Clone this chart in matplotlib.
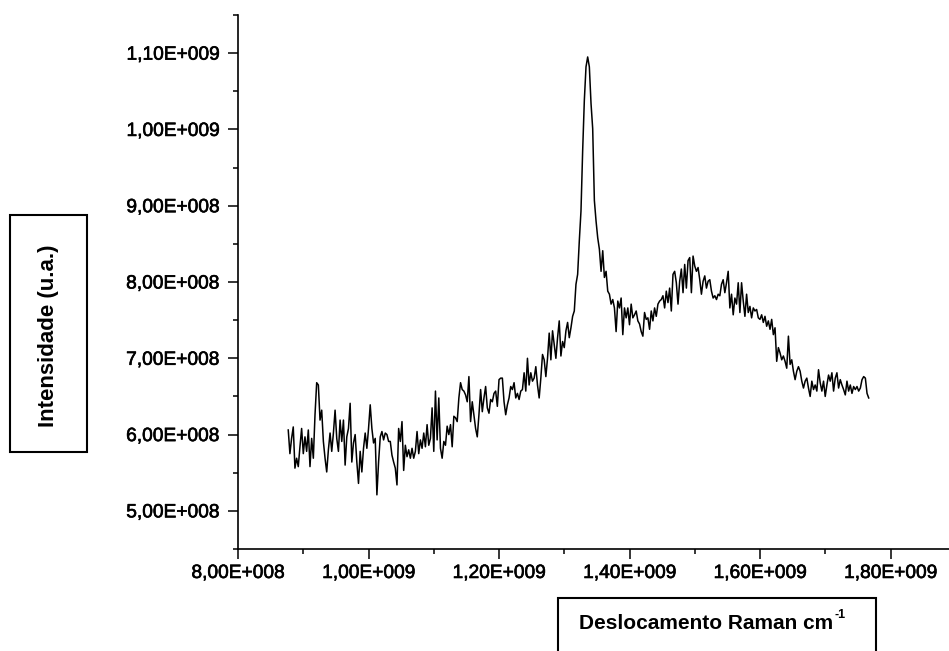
import numpy as np
import matplotlib
matplotlib.use("Agg")
import matplotlib.pyplot as plt
import matplotlib.patheffects as pe
from matplotlib.ticker import MultipleLocator, FuncFormatter
from matplotlib.patches import Rectangle

plt.rcParams['font.family'] = ['Liberation Sans', 'DejaVu Sans']

# Raman spectrum, shift sampled on a regular grid (units of 1e8)
x_first = 8.77
x_last = 17.666

# intensity (units of 1e8)
seg_low = [
    6.06, 5.75, 5.95, 6.10, 5.56, 5.69, 5.58, 5.84, 6.08, 5.75,
    5.97, 5.78, 6.06, 5.58, 5.95, 5.69, 6.26, 6.68, 6.65, 6.19,
    6.32, 5.91, 5.69, 5.51, 5.80, 6.02, 5.78, 6.02, 6.32, 5.95,
    5.78, 6.19, 5.91, 6.19, 5.60, 5.97, 6.08, 6.41, 5.64, 5.89,
    6.00, 5.64, 5.36, 5.78, 5.51, 5.82, 6.02, 5.82, 6.08, 6.39,
    6.08, 5.89, 5.95, 5.21, 5.64, 5.97, 6.04, 5.93, 6.02, 6.00,
    5.91, 5.91, 5.73, 5.64, 5.56, 5.34, 6.08, 5.91, 6.17, 5.53,
    5.86, 5.71, 5.80, 5.69, 5.82, 5.69, 5.78, 6.04, 5.75, 5.93,
    5.82, 6.02, 5.84, 6.13, 5.86, 5.95]
seg_rise = [
    6.35, 5.78, 6.57, 5.93, 6.48, 5.82, 5.69, 5.91, 5.86, 6.11,
    6.00, 6.13, 5.84, 6.24, 6.22, 6.17, 6.48, 6.68, 6.59, 6.57,
    6.52, 6.43, 6.76, 6.17, 6.43, 6.26, 6.08, 5.97, 6.26, 6.59,
    6.30, 6.48, 6.63, 6.35, 6.28, 6.46, 6.43, 6.54, 6.57, 6.37,
    6.72, 6.74, 6.74, 6.43, 6.26, 6.39, 6.48, 6.63, 6.59, 6.68,
    6.48, 6.54, 6.46, 6.57, 6.59, 6.81, 6.57, 7.00, 6.65, 6.81,
    6.70, 6.74, 6.89, 6.65, 6.48, 6.74, 7.05, 6.98, 6.76, 7.00,
    7.33, 6.98, 7.36, 7.18, 7.00, 7.27, 7.49, 7.03, 7.22, 7.14,
    7.36, 7.47, 7.27, 7.40, 7.55]
seg_peak = [
    7.62, 7.97, 8.10, 8.54, 8.93, 9.72, 10.38, 10.82, 10.95, 10.82,
    10.34, 10.01, 9.07, 8.80, 8.58, 8.43, 8.14, 8.41, 8.06, 8.14,
    7.88, 7.84, 7.71, 7.77, 7.66, 7.35, 7.75, 7.66, 7.79, 7.31,
    7.66, 7.53, 7.66, 7.44, 7.71, 7.53, 7.57, 7.62, 7.49, 7.45,
    7.35]
seg_band = [
    7.29, 7.60, 7.51, 7.53, 7.38, 7.62, 7.49, 7.66, 7.55, 7.71,
    7.75, 7.77, 7.82, 7.66, 7.88, 7.73, 7.92, 7.62, 8.10, 8.14,
    7.99, 7.71, 8.01, 8.17, 7.86, 8.23, 7.92, 8.28, 8.32, 7.86,
    8.34, 8.21, 8.14, 8.19, 8.03, 7.84, 8.01, 8.08, 7.92, 8.01,
    8.03, 7.88, 7.79, 7.82, 7.77, 7.84, 7.82, 7.97, 8.03, 7.86,
    7.99, 8.14, 7.66, 7.84, 7.57, 7.79, 7.71, 7.99, 7.60, 7.99]
seg_tail = [
    7.75, 7.55, 7.84, 7.60, 7.68, 7.53, 7.66, 7.62, 7.64, 7.53,
    7.51, 7.57, 7.47, 7.55, 7.42, 7.49, 7.38, 7.51, 7.31, 7.40,
    6.96, 7.14, 7.07, 6.98, 7.03, 6.96, 6.87, 7.29, 6.92, 6.98,
    6.83, 6.72, 6.83, 6.89, 6.83, 6.70, 6.61, 6.70, 6.74, 6.61,
    6.50, 6.70, 6.59, 6.65, 6.57, 6.85, 6.68, 6.57, 6.70, 6.50,
    6.65, 6.78, 6.70, 6.81, 6.57, 6.74, 6.81, 6.61, 6.72, 6.65,
    6.59, 6.52, 6.70, 6.57, 6.65, 6.54, 6.63, 6.59, 6.63, 6.57,
    6.61, 6.72, 6.76, 6.74, 6.54, 6.48]

intensity = np.array(seg_low + seg_rise + seg_peak + seg_band + seg_tail) * 1e8
shift = np.linspace(x_first, x_last, len(intensity)) * 1e8

y_label = 'Intensidade (u.a.)'
x_label = 'Deslocamento Raman cm'
x_label_sup = '-1'


def sci_comma(v, pos):
    if v == 0:
        return '0'
    e = int(np.floor(np.log10(abs(v)) + 1e-9))
    m = v / 10 ** e
    return f"{m:.2f}".replace('.', ',') + f"E+{e:03d}"


W, H = 949, 651
fig = plt.figure(figsize=(W / 100, H / 100), dpi=100)
ax = fig.add_axes([238 / W, (H - 549) / H, 1 - 238 / W, (549 - 15) / H])

ax.plot(shift, intensity, color='black', lw=1.1)

ax.set_xlim(8e8, 8e8 + (W - 238) / 130.5 * 2e8)
ax.set_ylim(4.5e8, 1.15e9)

ax.xaxis.set_major_locator(MultipleLocator(2e8))
ax.xaxis.set_minor_locator(MultipleLocator(1e8))
ax.yaxis.set_major_locator(MultipleLocator(1e8))
ax.yaxis.set_minor_locator(MultipleLocator(0.5e8))
ax.xaxis.set_major_formatter(FuncFormatter(sci_comma))
ax.yaxis.set_major_formatter(FuncFormatter(sci_comma))

for s in ['top', 'right']:
    ax.spines[s].set_visible(False)
for s in ['left', 'bottom']:
    ax.spines[s].set_linewidth(1.2)

ax.tick_params(which='major', length=7.5, width=1.1, labelsize=13.8, direction='out')
ax.tick_params(which='minor', length=3.8, width=1.1, direction='out')
ax.tick_params(axis='y', which='major', pad=6)
ax.tick_params(axis='x', which='major', pad=4)
for lab in ax.get_xticklabels() + ax.get_yticklabels():
    lab.set_path_effects([pe.withStroke(linewidth=0.45, foreground='black')])

# boxed axis titles
fig.patches.append(Rectangle((10 / W, (H - 452) / H), 77 / W, 237 / H,
                             transform=fig.transFigure, fill=False,
                             ec='black', lw=1.5))
fig.text(48.5 / W, (H - 336) / H, y_label, rotation=90, ha='center',
         va='center', fontsize=16, fontweight='bold')

fig.patches.append(Rectangle((558 / W, (H - 665) / H), 318 / W, 67 / H,
                             transform=fig.transFigure, fill=False,
                             ec='black', lw=1.5, clip_on=False))
t = fig.text(579 / W, (H - 629) / H, x_label, ha='left', va='baseline',
             fontsize=15, fontweight='bold')
r = fig.canvas.get_renderer()
bb = t.get_window_extent(renderer=r)
fig.text(bb.x1 / W + 1 / W, (H - 618) / H, x_label_sup, ha='left',
         va='baseline', fontsize=9, fontweight='bold')

fig.savefig('out.png', dpi=100)
